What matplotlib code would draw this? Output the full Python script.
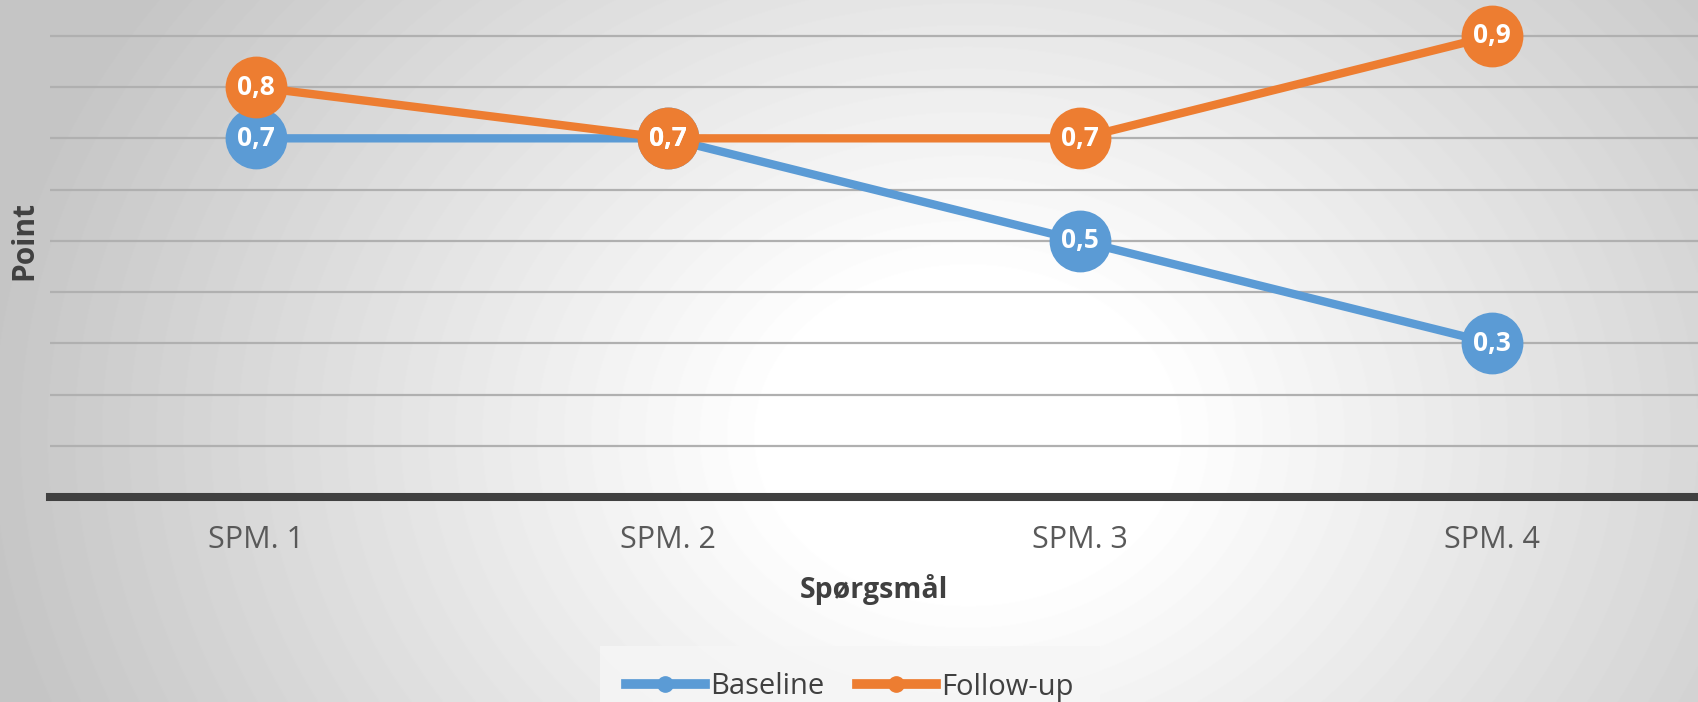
import numpy as np
import matplotlib
matplotlib.use("Agg")
import matplotlib.pyplot as plt
from matplotlib.lines import Line2D

plt.rcParams["font.family"] = ["Open Sans", "DejaVu Sans"]

CATEGORIES = ["SPM. 1", "SPM. 2", "SPM. 3", "SPM. 4"]
BASELINE = [0.7, 0.7, 0.5, 0.3]
FOLLOW_UP = [0.8, 0.7, 0.7, 0.9]
SERIES_NAMES = ["Baseline", "Follow-up"]

BLUE = "#5B9BD5"
ORANGE = "#ED7D31"

W, H = 1698, 702
fig = plt.figure(figsize=(W / 100, H / 100), dpi=100)

# radial grey-to-white background
bg = fig.add_axes([0, 0, 1, 1], zorder=-5)
yy, xx = np.mgrid[0:H, 0:W]
d = np.hypot(xx - 0.57 * W, (yy - 0.62 * H) / 0.8)
shade = 1 - 0.23 * np.clip((d - 200) / 800, 0, 1)
bg.imshow(shade, cmap="gray", vmin=0, vmax=1, aspect="auto",
          extent=[0, 1, 0, 1], origin="upper")
bg.axis("off")

ax = fig.add_axes([50 / W, 1 - 497 / H, 1 - 50 / W, 497 / H])
ax.set_facecolor("none")
x = np.arange(len(CATEGORIES))

for vals, col in [(BASELINE, BLUE), (FOLLOW_UP, ORANGE)]:
    ax.plot(x, vals, color=col, lw=6, marker="o", ms=44.5,
            markeredgewidth=0, solid_capstyle="round", zorder=3)
    for xi, v in zip(x, vals):
        ax.text(xi, v, f"{v:.1f}".replace(".", ","), color="white",
                fontsize=19, fontweight="bold", ha="center", va="center",
                zorder=4)

ax.set_xlim(-0.5, 3.5)
ax.set_ylim(0, 0.97)
ax.set_yticks(np.arange(1, 10) / 10)
ax.yaxis.grid(True, color="#b0b0b0", lw=1.6)
ax.set_axisbelow(True)
ax.tick_params(axis="y", length=0, labelleft=False)
ax.set_xticks(x)
ax.set_xticklabels(CATEGORIES, fontsize=22, color="#595959")
ax.tick_params(axis="x", length=0, pad=20)

for s in ["top", "right", "left"]:
    ax.spines[s].set_visible(False)
ax.spines["bottom"].set_color("#404040")
ax.spines["bottom"].set_linewidth(5.8)

ax.set_xlabel("Spørgsmål", fontsize=20.5, fontweight="bold", color="#404040")
ax.xaxis.set_label_coords((874 - 50) / (W - 50), -0.187)
ax.xaxis.label.set_va("center")
ax.set_ylabel("Point", fontsize=21.5, fontweight="bold", color="#404040")
ax.yaxis.set_label_coords((24 - 50) / (W - 50), 0.517)
ax.yaxis.label.set_va("center")

handles = [Line2D([], [], color=BLUE, lw=7, marker="o", ms=11),
           Line2D([], [], color=ORANGE, lw=7, marker="o", ms=11)]
leg = fig.legend(handles, SERIES_NAMES, loc="center",
                 bbox_to_anchor=(850 / W, 1 - 687 / H), ncol=2, fontsize=21,
                 frameon=True, fancybox=False, handlelength=2.7,
                 handletextpad=0.2, columnspacing=1.1, borderpad=0.9)
leg.get_frame().set_facecolor("#f6f6f6")
leg.get_frame().set_edgecolor("none")
for t in leg.get_texts():
    t.set_color("#404040")

fig.savefig("out.png", dpi=100)
